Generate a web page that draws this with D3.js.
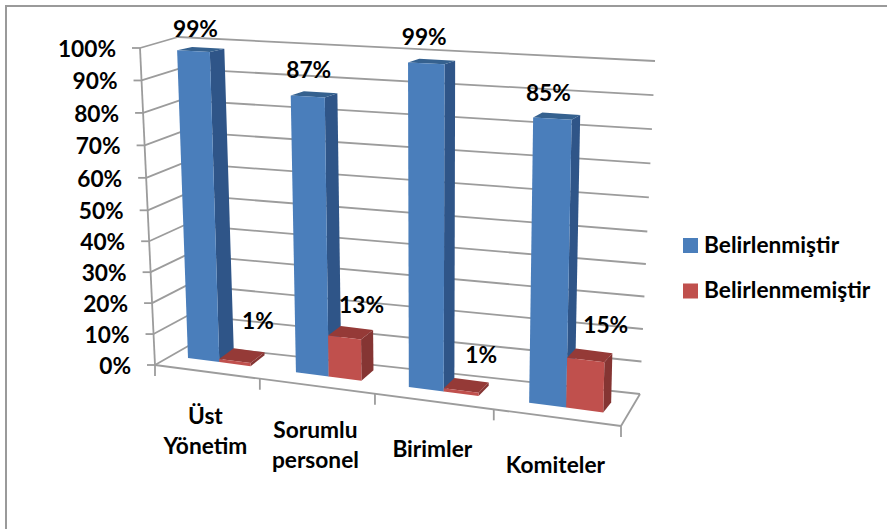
<!DOCTYPE html>
<html lang="tr">
<head>
<meta charset="utf-8">
<title>Belirlenme durumu</title>
<script src="https://cdnjs.cloudflare.com/ajax/libs/d3/7.8.5/d3.min.js"></script>
<style>
  html, body { margin: 0; padding: 0; background: #fff; }
  svg { display: block; }
  text { font-family: Lato, "Open Sans", sans-serif; font-weight: 700; fill: #000; }
</style>
</head>
<body>
<div id="chart"></div>
<script>
// Chart data
const categories = [["Üst", "Yönetim"], ["Sorumlu", "personel"], ["Birimler"], ["Komiteler"]];
const seriesNames = ["Belirlenmiştir", "Belirlenmemiştir"];
const belirlenmistir = [99, 87, 99, 85];
const belirlenmemistir = [1, 13, 1, 15];
const percentTicks = [0, 10, 20, 30, 40, 50, 60, 70, 80, 90, 100];

// Palette: front, side and top face of each series
const faces = [
  { front: "#4a7ebb", side: "#2f5588", top: "#35618f" },
  { front: "#c0504d", side: "#853533", top: "#953a37" }
];
const gridColor = "#9c9c9c";
const fontSize = 22.7;

const width = 887, height = 529;
const svg = d3.select("#chart").append("svg").attr("width", width).attr("height", height);

// Projection of the 3D box: each plane is a quad [bottom-left, bottom-right, top-left, top-right]
const framePlanes = {
  front: [[155, 365], [621, 426], [140, 48], [635, 83]],
  back:  [[190, 345], [640, 394], [178, 37], [655, 61]]
};
const barPlanes = {
  front: [[188, 358], [600, 412], [177, 47], [608, 69.5]],
  back:  [[203, 347], [608, 402], [192, 44], [616, 65.5]]
};

// Height runs slightly non-uniformly with the perspective
const heightScale = d3.scaleLinear().domain([0, 50, 100]).range([0, 0.488, 1]);
// Along the front edge, category boundaries get wider toward the viewer
const axisScale = d3.scaleLinear().domain([0, 1, 2, 3, 4]).range([0, 0.225, 0.472, 0.727, 1]);
// Bar slots share the same foreshortening
const slotScale = d3.scaleLinear().domain([0, 1, 2, 3, 4]).range([0, 0.262, 0.536, 0.828, 1.138]);

const lerp = (a, b, t) => [a[0] + (b[0] - a[0]) * t, a[1] + (b[1] - a[1]) * t];
const onPlane = (q, u, pct) => {
  const v = heightScale(pct);
  return lerp(lerp(q[0], q[1], u), lerp(q[2], q[3], u), v);
};

const line = d3.line();
const polyPath = pts => line(pts) + "Z";

// Left wall and back wall gridlines
const gridG = svg.append("g").attr("fill", "none").attr("stroke", gridColor).attr("stroke-width", 1.8);
gridG.selectAll("path.back").data(percentTicks).join("path").attr("class", "back")
  .attr("d", p => line([onPlane(framePlanes.back, 0, p), onPlane(framePlanes.back, 1, p)]));
gridG.selectAll("path.side").data(percentTicks).join("path").attr("class", "side")
  .attr("d", p => line([onPlane(framePlanes.front, 0, p), onPlane(framePlanes.back, 0, p)]));

// Value axis line, its ticks, and the floor edges
gridG.append("path").attr("d", line([onPlane(framePlanes.front, 0, 100), onPlane(framePlanes.front, 0, 0)]));
gridG.selectAll("path.ytick").data(percentTicks).join("path").attr("class", "ytick")
  .attr("d", p => { const a = onPlane(framePlanes.front, 0, p); return line([[a[0] - 8, a[1]], a]); });
gridG.append("path").attr("d", line([onPlane(framePlanes.front, 0, 0), onPlane(framePlanes.front, 1, 0)]));
gridG.append("path").attr("d", line([onPlane(framePlanes.front, 1, 0), onPlane(framePlanes.back, 1, 0)]));
gridG.selectAll("path.xtick").data(d3.range(0, 5)).join("path").attr("class", "xtick")
  .attr("d", i => { const a = onPlane(framePlanes.front, axisScale(i), 0); return line([a, [a[0], a[1] + 11]]); });

// Value axis labels
const yLabels = svg.append("g").attr("font-size", fontSize).attr("text-anchor", "end");
yLabels.selectAll("text").data(percentTicks).join("text")
  .attr("x", p => onPlane(framePlanes.front, 0, p)[0] - 24)
  .attr("y", p => onPlane(framePlanes.front, 0, p)[1] + 9)
  .text(p => p + "%");

// One box per value: side face and top face behind the front face
const slotWidth = 0.29;
function drawBar(cat, seriesIndex, value) {
  const u0 = slotScale(cat + seriesIndex * slotWidth);
  const u1 = slotScale(cat + (seriesIndex + 1) * slotWidth);
  const f = faces[seriesIndex];
  const F = barPlanes.front, B = barPlanes.back;
  const g = svg.append("g").attr("class", "bar");
  g.append("path").attr("fill", f.side).attr("d", polyPath([
    onPlane(F, u1, 0), onPlane(B, u1, 0), onPlane(B, u1, value), onPlane(F, u1, value)
  ]));
  g.append("path").attr("fill", f.top).attr("d", polyPath([
    onPlane(F, u0, value), onPlane(F, u1, value), onPlane(B, u1, value), onPlane(B, u0, value)
  ]));
  g.append("path").attr("fill", f.front).attr("d", polyPath([
    onPlane(F, u0, 0), onPlane(F, u1, 0), onPlane(F, u1, value), onPlane(F, u0, value)
  ]));
}
categories.forEach((c, i) => {
  drawBar(i, 0, belirlenmistir[i]);
  drawBar(i, 1, belirlenmemistir[i]);
});

// Data labels float above each box
const blueNudge = [[2, -21], [1, -25], [-2, -25], [-4, -25]];
const redNudge = [[23, -39], [17, -32], [20, -35], [20, -34]];
function dataLabel(cat, seriesIndex, value, nudge) {
  const uMid = slotScale(cat + (seriesIndex + 0.5) * slotWidth);
  const p = onPlane(barPlanes.front, uMid, value);
  svg.append("text").attr("font-size", fontSize).attr("text-anchor", "middle")
    .attr("x", p[0] + nudge[0]).attr("y", p[1] + nudge[1] + 7)
    .text(value + "%");
}
categories.forEach((c, i) => {
  dataLabel(i, 0, belirlenmistir[i], blueNudge[i]);
  dataLabel(i, 1, belirlenmemistir[i], redNudge[i]);
});

// Category labels under the front edge
const catG = svg.append("g").attr("font-size", fontSize).attr("text-anchor", "middle");
categories.forEach((lines, i) => {
  const p = onPlane(framePlanes.front, axisScale(i + 0.5), 0);
  const centre = p[1] + (lines.length > 1 ? 60 : 48);
  const t = catG.append("text");
  lines.forEach((s, k) => {
    t.append("tspan").attr("x", p[0] - 2)
      .attr("y", centre + (k - (lines.length - 1) / 2) * 30 + 7)
      .text(s);
  });
});

// Legend
const legend = svg.append("g");
const legendRows = d3.scalePoint().domain(seriesNames).range([245.5, 291]);
seriesNames.forEach((name, i) => {
  const y = legendRows(name);
  legend.append("rect").attr("x", 683).attr("y", y - 7.5).attr("width", 15).attr("height", 15)
    .attr("fill", faces[i].front);
  legend.append("text").attr("x", 704).attr("y", y + 7).attr("font-size", fontSize).text(name);
});

// Chart frame: the two edges that fall inside the page
svg.append("path").attr("fill", "none").attr("stroke", "#9a9a9a").attr("stroke-width", 2)
  .attr("d", line([[6, height], [6, 6], [width, 6]]));
</script>
</body>
</html>
